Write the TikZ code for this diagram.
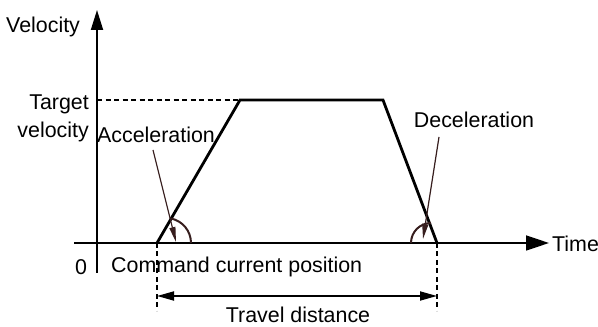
\documentclass[tikz,border=0pt]{standalone}
\usepackage{fontspec}
\setmainfont{Liberation Sans}
\usetikzlibrary{arrows.meta}
\definecolor{pointer}{RGB}{55,30,30}
\tikzset{
  lbl/.style={inner sep=0pt, font=\fontsize{21.4}{25}\selectfont},
  axis/.style={line width=1.8pt},
  profile/.style={line width=2.8pt, line join=miter},
  guide/.style={line width=1.4pt, dash pattern=on 5pt off 3.5pt},
  pointerarrow/.style={line width=1.2pt, draw=pointer, -{Triangle[length=15pt,width=6pt]}, fill=pointer},
  anglearc/.style={line width=2pt, draw=pointer},
  dim/.style={line width=1.8pt, {Triangle[length=17pt,width=9pt]}-{Triangle[length=17pt,width=9pt]}}
}
\begin{document}
\begin{tikzpicture}[x=1pt,y=1pt]
\useasboundingbox (0,0) rectangle (598,327);
% coordinates
\coordinate (O) at (97,84);
\coordinate (yb) at (97,54);
\coordinate (yt) at (97,317);
\coordinate (xl) at (74,84);
\coordinate (xr) at (549,84);
\coordinate (p0) at (157,84);
\coordinate (p1) at (240,227);
\coordinate (p2) at (383,227);
\coordinate (p3) at (437,84);
\coordinate (tv) at (97,227);
\coordinate (d0) at (157,16);
\coordinate (d1) at (437,16);
\coordinate (m0) at (157,31);
\coordinate (m1) at (437,31);
\coordinate (aS) at (153,177);
\coordinate (aE) at (176,85);
\coordinate (dS) at (439,190);
\coordinate (dE) at (423,88);
% axes
\draw[axis, -{Triangle[length=20pt,width=12pt]}] (yb) -- (yt);
\draw[axis, -{Triangle[length=23pt,width=15pt]}] (xl) -- (xr);
% guides
\draw[guide] (tv) -- (p1);
\draw[guide] (p0) -- (d0);
\draw[guide] (p3) -- (d1);
% profile
\draw[profile] (p0) -- (p1) -- (p2) -- (p3);
% angle arcs
\draw[anglearc] (191,84) arc[start angle=0, end angle=78.5, radius=25];
\draw[anglearc] (431,104) arc[start angle=90, end angle=180, radius=20];
% pointer arrows
\draw[pointerarrow] (aS) -- (aE);
\draw[pointerarrow] (dS) -- (dE);
% dimension
\draw[dim] (m0) -- (m1);
% labels
\node[lbl, anchor=base west] (velocity) at (6,294) {Velocity};
\node[lbl, anchor=base east] (target) at (89,217) {Target};
\node[lbl, anchor=base east] (targetv) at (89,189) {velocity};
\node[lbl, anchor=base] (accel) at (156,184) {Acceleration};
\node[lbl, anchor=base] (decel) at (474,199) {Deceleration};
\node[lbl, anchor=base] (zero) at (81,52) {0};
\node[lbl, anchor=base west] (ccp) at (111,54) {Command current position};
\node[lbl, anchor=base] (travel) at (298,4) {Travel distance};
\node[lbl, anchor=base west] (time) at (552,75) {Time};
\end{tikzpicture}
\end{document}
